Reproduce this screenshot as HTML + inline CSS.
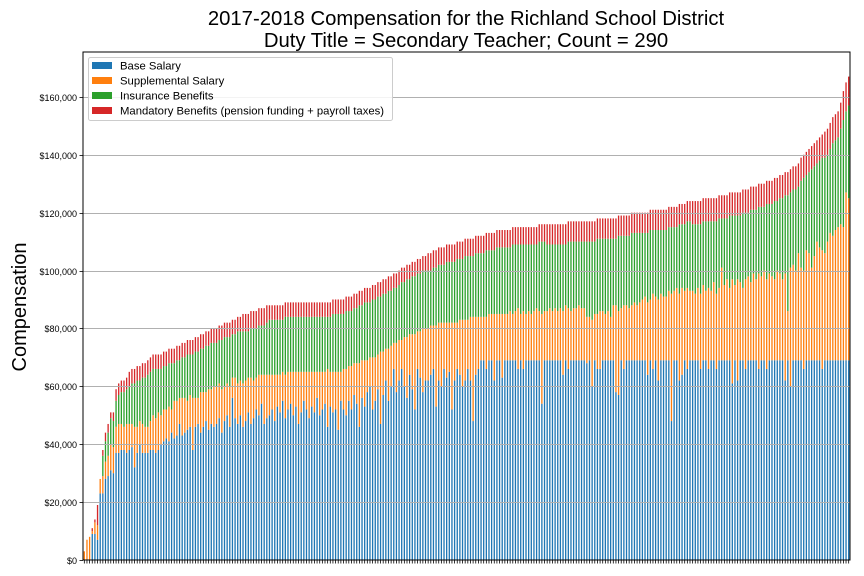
<!DOCTYPE html>
<html><head><meta charset="utf-8"><style>
html,body{margin:0;padding:0;background:#fff;}
svg{display:block;font-family:"Liberation Sans","DejaVu Sans",sans-serif;}
</style></head><body>
<svg id="chart" width="864" height="576" viewBox="0 0 864 576" xmlns="http://www.w3.org/2000/svg">
<rect width="864" height="576" fill="#fff"/>
<text x="466" y="25" text-anchor="middle" font-size="20.3">2017-2018 Compensation for the Richland School District</text>
<text x="466" y="47" text-anchor="middle" font-size="20.3">Duty Title = Secondary Teacher; Count = 290</text>
<text transform="translate(26,307) rotate(-90)" text-anchor="middle" font-size="20">Compensation</text>
<g id="bars"></g>
<g id="grid"></g>
<g id="yticks"></g>
<g id="xticks"></g>
<rect x="83" y="52" width="767" height="508" fill="none" stroke="#000" stroke-width="1"/>
<g>
<rect x="88.5" y="57.5" width="304" height="63" rx="2" fill="#fff" fill-opacity="0.85" stroke="#ccc"/>
<g><rect x="92" y="62" width="20" height="7" fill="#1f77b4"/><text x="120" y="69.5" font-size="11.3">Base Salary</text></g>
<g><rect x="92" y="77" width="20" height="7" fill="#ff7f0e"/><text x="120" y="84.5" font-size="11.3">Supplemental Salary</text></g>
<g><rect x="92" y="92" width="20" height="7" fill="#2ca02c"/><text x="120" y="99.5" font-size="11.3">Insurance Benefits</text></g>
<g><rect x="92" y="107" width="20" height="7" fill="#d62728"/><text x="120" y="114.5" font-size="11.3">Mandatory Benefits (pension funding + payroll taxes)</text></g>
</g>
</svg>
<script>
const base = [0,0,0,9,9,7,23,23,28,29,31,30,37,37,
38,38,37,38,39,32,37,40,37,37,37,38,38,37,38,40,
41,42,41,44,42,43,47,43,44,45,46,38,46,47,44,46,48,45,47,46,
47,49,44,48,50,46,56,49,47,50,46,48,51,47,49,52,50,54,47,49,
50,52,48,53,51,55,49,52,54,50,53,47,51,55,52,49,53,51,56,50,52,54,46,53,51,52,45,55,52,50,
55,52,57,54,46,56,53,58,60,52,55,59,47,57,62,55,60,66,58,62,66,60,56,64,59,52,66,63,58,62,
62,64,66,53,62,60,66,63,65,52,62,66,64,60,62,66,62,48,64,66,69,69,66,69,69,62,69,69,63,69,
69,69,69,69,66,69,66,69,69,69,69,69,69,54,69,69,69,69,69,69,69,64,69,66,69,69,69,69,69,69,
68,69,60,69,66,66,69,69,69,69,69,58,57,69,66,69,69,69,69,69,69,69,69,64,69,66,69,62,69,69,69,69,48,69,69,62,64,69,66,69,
69,69,69,66,69,69,66,69,69,66,69,69,69,69,69,61,69,62,69,69,66,69,69,69,69,66,69,69,66,69,
69,69,69,69,69,62,69,60,69,69,69,69,66,69,69,69,69,69,69,66,69,69,69,69,69,69,69,69,69,69];
const supp = [3,7,8,1,4,5,5,6,6,7,9,9,9,10,
9,8,10,9,8,14,9,8,10,9,9,10,12,12,13,10,
11,10,12,8,13,12,9,13,12,10,11,18,10,9,14,12,10,14,12,14,
13,12,15,12,11,14,7,14,14,12,15,14,12,16,13,11,14,10,17,15,
14,12,16,11,13,10,15,13,11,15,12,18,14,10,13,16,12,14,9,15,13,11,20,12,14,13,20,10,14,16,
12,15,11,14,22,13,16,11,10,18,15,12,25,15,11,18,14,9,17,14,10,17,21,14,19,26,13,16,22,18,
18,17,15,28,20,22,16,19,17,30,20,16,19,23,21,17,22,36,20,18,15,15,18,16,16,23,16,16,22,16,
16,17,16,17,21,16,20,16,17,16,17,18,17,31,17,17,18,17,18,17,18,22,19,21,17,18,18,19,18,18,
16,15,23,16,19,20,17,16,17,15,19,30,29,18,22,19,18,19,20,19,20,21,22,25,21,26,22,28,23,22,22,24,44,24,25,30,30,24,28,24,
24,23,25,26,26,24,28,24,27,26,25,32,26,28,25,36,26,35,27,25,31,29,27,30,28,33,29,31,31,30,
29,28,31,30,28,37,17,41,33,31,37,32,34,38,37,32,36,41,39,41,37,41,44,43,45,46,47,46,58,56];
const ins = [0,0,0,0,0,0,0,7,7,8,9,9,9,10,
11,12,12,13,14,15,16,14,16,17,18,17,16,17,15,16,
15,15,15,16,13,14,13,14,14,16,14,15,16,16,15,15,16,15,16,15,
15,15,17,17,16,17,15,15,18,17,18,17,16,17,18,17,17,17,17,18,
19,19,19,19,19,18,20,19,19,19,19,19,19,19,19,19,19,19,19,19,19,19,18,19,20,20,20,20,19,20,
19,19,19,19,20,19,20,20,19,20,20,20,19,20,19,20,19,19,19,19,20,19,20,19,20,20,20,20,20,20,
20,19,20,20,20,20,20,21,21,21,21,22,21,21,22,22,21,21,22,22,22,22,23,22,22,22,23,23,23,23,
23,22,24,23,22,24,23,24,23,24,23,22,24,25,24,23,22,23,22,23,22,23,21,23,24,23,23,22,23,23,
26,26,27,25,26,25,25,26,25,27,23,23,26,25,24,24,25,25,24,25,24,23,22,24,24,22,23,24,22,23,23,22,23,22,21,24,22,23,23,24,
23,24,22,24,22,24,23,24,21,25,24,17,23,21,25,22,24,22,23,26,23,22,25,22,24,23,24,22,26,24,
25,27,24,26,28,27,40,26,26,28,23,30,32,26,28,34,31,27,30,32,33,30,29,32,31,31,33,37,28,32];
const mand = [0,0,0,1,1,7,0,2,3,3,2,3,4,4,
4,4,4,5,5,5,5,5,5,5,5,5,5,5,5,5,
5,5,5,5,5,5,5,5,5,5,5,5,5,5,5,5,5,5,5,5,
5,5,5,5,5,5,5,5,5,5,6,6,6,6,6,6,6,6,6,6,
5,5,5,5,5,5,5,5,5,5,5,5,5,5,5,5,5,5,5,5,5,5,5,5,5,5,5,5,5,5,
5,5,5,5,5,5,5,5,5,5,5,5,5,5,5,5,5,5,5,5,5,5,5,5,5,5,5,5,5,5,
6,6,6,6,6,6,6,6,6,6,6,6,6,6,6,6,6,6,6,6,6,6,6,6,6,6,6,6,6,6,
6,6,6,6,6,6,6,6,6,6,6,6,6,6,6,7,7,7,7,7,7,7,7,7,7,7,7,7,7,7,
7,7,7,7,7,7,7,7,7,7,7,7,7,7,7,7,7,7,7,7,7,7,7,7,7,7,7,7,7,7,7,7,7,7,7,7,7,7,7,7,
8,8,8,8,8,8,8,8,8,8,8,8,8,8,8,8,8,8,8,8,8,8,8,8,8,8,8,8,8,8,
8,8,8,8,8,8,8,8,8,8,8,8,8,8,8,8,8,8,8,8,9,9,9,9,9,9,9,10,10,10];
const yTickValues = [0,20000,40000,60000,80000,100000,120000,140000,160000];
const yTickLabels = ["$0","$20,000","$40,000","$60,000","$80,000","$100,000","$120,000","$140,000","$160,000"];
const seriesNames = ["base-salary","supplemental-salary","insurance-benefits","mandatory-benefits"];
const seriesColors = ["#1f77b4","#ff7f0e","#2ca02c","#d62728"];

const NS = "http://www.w3.org/2000/svg";
const X0 = 83, X1 = 850, Y0 = 560, Y1 = 52;
const YMAX = 175500;
const N = base.length;
const step = (X1 - X0) / N;
function xScale(i){ return X0 + (i + 0.5) * step; }
function yScale(v){ return Y0 - v / YMAX * (Y0 - Y1); }
function mk(tag, attrs, parent){
  const e = document.createElementNS(NS, tag);
  for (const k in attrs) e.setAttribute(k, attrs[k]);
  parent.appendChild(e);
  return e;
}
const grid = document.getElementById('grid');
const yt = document.getElementById('yticks');
yTickValues.forEach((v, k) => {
  const y = Math.round(yScale(v)) + 0.5;
  if (v > 0) {
    const g = mk('line', {x1: X0, x2: X1, y1: y, y2: y, stroke: '#b0b0b0', 'stroke-width': 1}, grid);
    
    
  }
  const t = mk('line', {x1: X0 - 3.5, x2: X0, y1: y, y2: y, stroke: '#000', 'stroke-width': 0.8}, yt);
  
  
  const lb = mk('text', {x: X0 - 6, y: y + 3.3, 'text-anchor': 'end', 'font-size': 9}, yt);
  lb.textContent = yTickLabels[k];
  
  
});
const barsG = document.getElementById('bars');
const xt = document.getElementById('xticks');
const series = [base, supp, ins, mand];
const bw = step * 0.5;
for (let i = 0; i < N; i++) {
  let cum = 0;
  const cx = xScale(i);
  for (let s = 0; s < 4; s++) {
    const v = series[s][i] * 1000;
    if (v > 0) {
      const yTop = yScale(cum + v), yBot = yScale(cum);
      const r = mk('rect', {x: cx - bw / 2, y: yTop, width: bw, height: yBot - yTop, fill: seriesColors[s]}, barsG);
      
      
    }
    cum += v;
  }
  const tk = mk('line', {x1: cx, x2: cx, y1: Y0, y2: Y0 + 3.5, stroke: '#000', 'stroke-width': 0.8}, xt);
  
  
}
</script>
</body></html>
